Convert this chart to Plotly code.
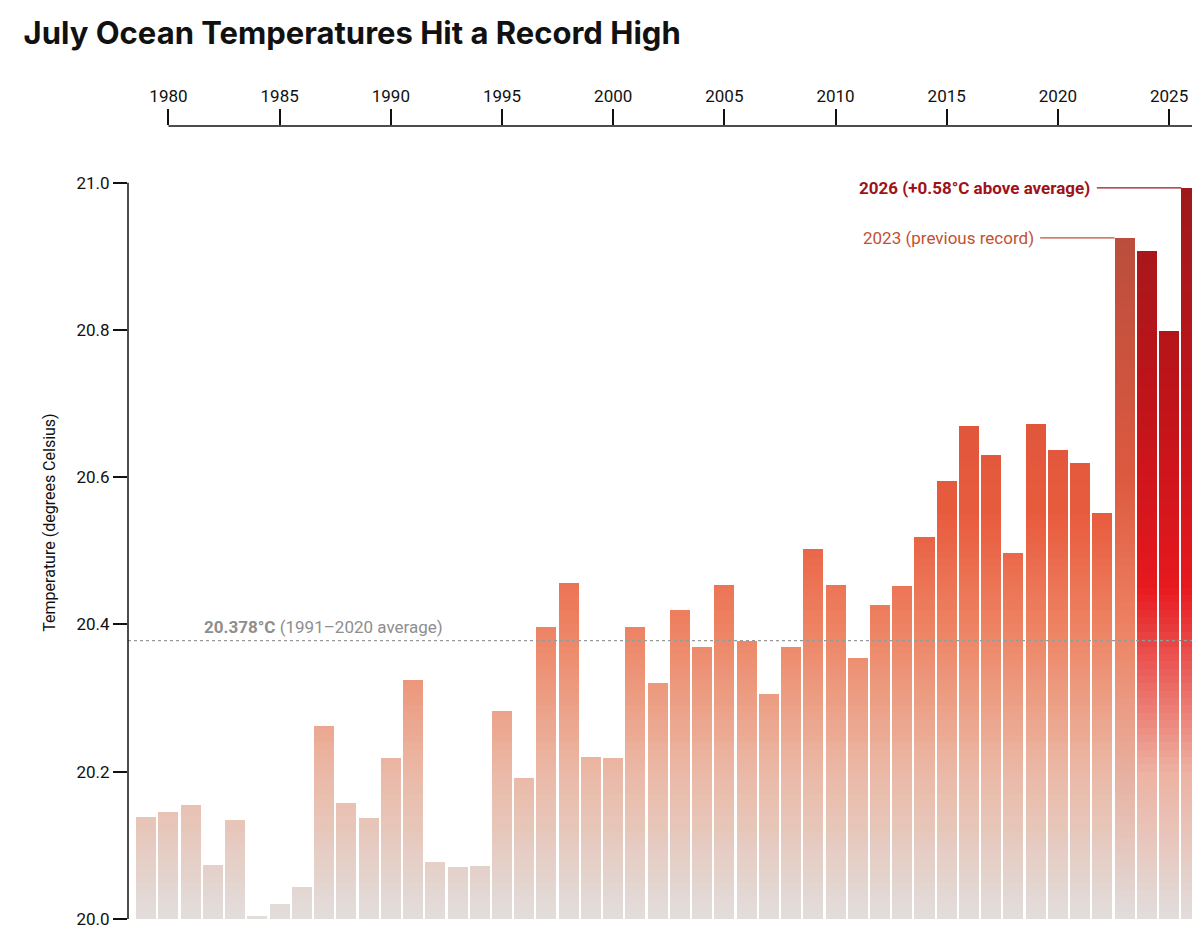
import numpy as np
import plotly.graph_objects as go

years = list(range(1979, 2027))
temps = [20.138, 20.145, 20.155, 20.073, 20.134, 20.004, 20.020, 20.044, 20.261, 20.157,
         20.137, 20.219, 20.325, 20.077, 20.070, 20.072, 20.282, 20.191, 20.396, 20.457,
         20.220, 20.219, 20.396, 20.320, 20.419, 20.369, 20.454, 20.377, 20.306, 20.369,
         20.503, 20.454, 20.354, 20.426, 20.452, 20.519, 20.595, 20.670, 20.630, 20.497,
         20.672, 20.637, 20.619, 20.552, 20.925, 20.907, 20.799, 20.993]
average = 20.378
top_ticks = [1980, 1985, 1990, 1995, 2000, 2005, 2010, 2015, 2020, 2025]

# colour stops (value, hex) used for the vertical gradient inside bars
normal_stops = [(20.0, "#e2dedd"), (20.2, "#ebb9a6"), (20.4, "#ee8262"), (20.55, "#e85c3e"), (21.0, "#d04a35")]
hot_stops = [(20.0, "#e2dedd"), (20.2, "#eeb2a2"), (20.45, "#e8191f"), (20.7, "#c0141a"), (21.0, "#9e1a1c")]
rec_stops = [(20.0, "#e2dedd"), (20.4, "#ee8262"), (20.6, "#dd5a40"), (20.95, "#b84d3d")]


def hex2rgb(h):
    return np.array([int(h[i:i + 2], 16) for i in (1, 3, 5)], dtype=float)


def colour(stops, v):
    for (v0, c0), (v1, c1) in zip(stops, stops[1:]):
        if v <= v1:
            t = max(0.0, (v - v0) / (v1 - v0))
            c = hex2rgb(c0) * (1 - t) + hex2rgb(c1) * t
            return "rgb(%d,%d,%d)" % tuple(c)
    return "rgb(%d,%d,%d)" % tuple(hex2rgb(stops[-1][1]))


fig = go.Figure()
step = 0.01
for lo in np.arange(20.0, 21.0, step):
    mid = lo + step / 2
    heights, cols = [], []
    for yr, t in zip(years, temps):
        heights.append(min(max(t - lo, 0), step))
        stops = rec_stops if yr == 2023 else hot_stops if yr >= 2024 else normal_stops
        cols.append(colour(stops, mid))
    fig.add_trace(go.Bar(x=years, y=heights, base=[lo] * len(years), width=0.9,
                         marker=dict(color=cols, line=dict(width=0)),
                         showlegend=False, hoverinfo="skip"))

fig.add_shape(type="line", xref="paper", x0=0, x1=1, y0=average, y1=average,
              line=dict(color="#999999", width=1.3, dash="dot"))
fig.add_shape(type="line", xref="paper", x0=0, x1=0, y0=20.0, y1=21.0,
              line=dict(color="#111111", width=1.5))
# top year axis line starts at the first labelled year
fig.add_shape(type="line", yref="paper", x0=1980, x1=2026.3, y0=1, y1=1,
              line=dict(color="#111111", width=1.5))
fig.add_annotation(x=1981.5, y=average, yshift=2, text="<b>20.378°C</b> (1991–2020 average)",
                   showarrow=False, xanchor="left", yanchor="bottom",
                   font=dict(family="Roboto", size=17, color="#8e8e8e"))
fig.add_annotation(x=2021.55, y=20.993, text="<b>2026 (+0.58°C above average)</b>",
                   showarrow=False, xanchor="right", font=dict(family="Roboto", size=17, color="#a01219"))
fig.add_shape(type="line", x0=2021.75, x1=2025.55, y0=20.993, y1=20.993,
              line=dict(color="#a01219", width=1.2))
fig.add_annotation(x=2019.0, y=20.925, text="2023 (previous record)",
                   showarrow=False, xanchor="right", font=dict(family="Roboto", size=17, color="#c4502f"))
fig.add_shape(type="line", x0=2019.2, x1=2022.55, y0=20.925, y1=20.925,
              line=dict(color="#c4502f", width=1.2))

fig.update_layout(
    width=1200, height=928, barmode="overlay", bargap=0,
    plot_bgcolor="white", paper_bgcolor="white",
    margin=dict(l=120, r=10, t=118, b=17),
    title=dict(text="<b>July Ocean Temperatures Hit a Record High</b>", x=0.013, y=0.985,
               xanchor="left", yanchor="top", font=dict(family="Inter", size=31, color="#111111")),
    xaxis=dict(side="top", range=[1978.18, 2026.3], tickvals=top_ticks, ticks="outside",
               ticklen=16, tickcolor="#111111", tickwidth=1.5, showline=False, automargin=False,
               showgrid=False, zeroline=False, tickfont=dict(family="Roboto", size=17, color="#111111")),
    yaxis=dict(range=[20.0, 21.077], tickvals=[20.0, 20.2, 20.4, 20.6, 20.8, 21.0],
               ticktext=["20.0", "20.2", "20.4", "20.6", "20.8", "21.0"], automargin=False,
               ticks="outside", ticklen=14, tickcolor="#111111", tickwidth=1.5, showgrid=False,
               zeroline=False, showline=False, tickfont=dict(family="Roboto", size=17, color="#111111"),
               title=dict(text="Temperature (degrees Celsius)", standoff=16,
                          font=dict(family="Roboto", size=16, color="#111111"))),
)

fig.write_html("out.html")
